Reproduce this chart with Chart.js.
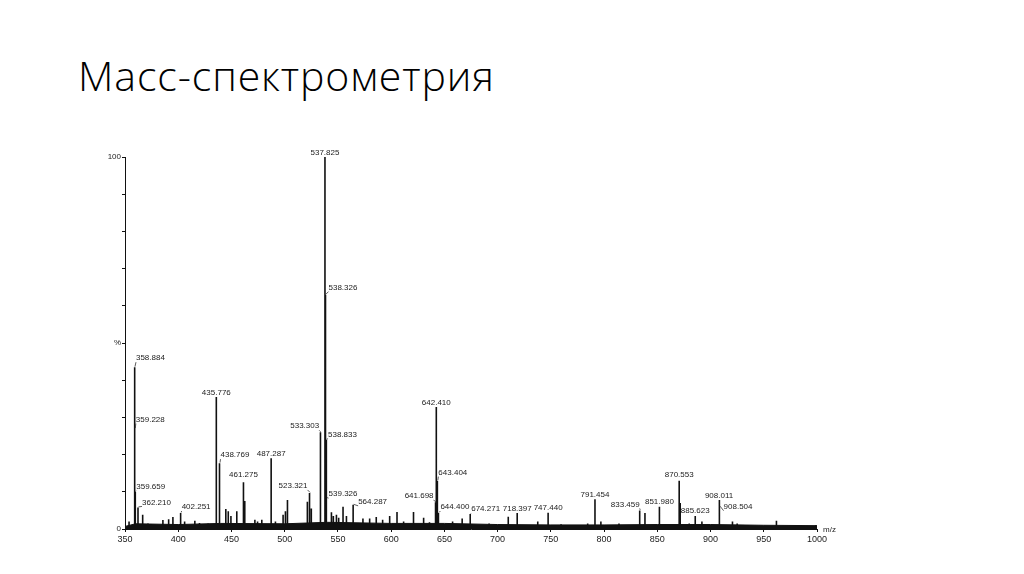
<!DOCTYPE html>
<html>
<head>
<meta charset="utf-8">
<script src="https://cdn.jsdelivr.net/npm/chart.js@4/dist/chart.umd.min.js"></script>
<style>
  html, body { margin: 0; padding: 0; background: #fff; }
  body { width: 1024px; height: 574px; position: relative; overflow: hidden; }
  #title {
    position: absolute; left: 78px; top: 55px;
    font-family: "Open Sans", sans-serif; font-weight: 300; font-size: 41px;
    letter-spacing: 0.9px; line-height: 1; color: #000; white-space: nowrap;
  }
  #spectrum { position: absolute; left: 0; top: 0; }
</style>
</head>
<body>
<div id="title">Масс-спектрометрия</div>
<canvas id="spectrum" width="1024" height="574"></canvas>
<script>
// peaks: m/z and relative intensity (%)
const peakMz = [
  353.8, 358.884, 359.228, 359.659, 362.210, 366.6, 371.6, 385.6, 391.0, 395.0,
  402.251, 406.0, 415.6, 420.0, 428.0, 435.776, 438.769, 444.7, 447.0, 449.5,
  455.0, 461.275, 462.5, 472.0, 474.5, 478.5, 487.287, 491.3, 498.5, 500.7,
  502.6, 521.3, 523.321, 525.0, 533.303, 533.8, 537.825, 538.326, 538.833, 539.326,
  543.9, 545.7, 548.6, 550.7, 554.8, 558.0, 564.287, 573.5, 579.8, 586.0,
  592.0, 598.6, 605.5, 611.7, 621.0, 630.5, 636.0, 641.698, 642.410, 643.404,
  644.400, 657.7, 666.7, 674.271, 692.0, 710.0, 718.397, 737.7, 747.440, 759.6,
  784.6, 791.454, 797.0, 814.0, 833.459, 838.4, 851.980, 870.553, 871.5, 880.0,
  885.623, 891.9, 908.011, 908.504, 920.6, 925.0, 961.9, 998.8,
]
const peakInt = [
  2, 43.5, 27, 10, 5.8, 3.8, 1.5, 2.4, 2.6, 3.2,
  4.3, 2, 2.2, 1.6, 1.5, 35.5, 17.7, 5.4, 4.8, 3.5,
  4.8, 12.6, 7.5, 2.5, 2, 2.5, 19, 2, 3.8, 4.8,
  7.8, 7.3, 9.7, 5.5, 26, 13, 100, 63, 24, 8.3,
  4.5, 3.5, 3.8, 3, 6, 3.5, 6.5, 2.8, 2.8, 3.2,
  2.5, 3.5, 4.6, 2, 4.6, 3, 1.8, 7.2, 32.8, 13,
  4.3, 2, 2.8, 4, 1.5, 3.3, 4.3, 2, 4.4, 1.3,
  1.5, 8, 2, 1.5, 5, 4.3, 6, 13, 7, 1.5,
  3.5, 2, 7.8, 6, 2, 1.5, 2.2, 1,
]

// dense noise floor along the base line (%)
const noiseMz    = [350, 360, 400, 440, 500, 540, 600, 650, 700, 750, 800, 850, 900, 950, 1000]
const noiseLevel = [0.7, 1.4, 1.2, 1.5, 1.4, 1.8, 1.5, 1.5, 1.2, 1.1, 1.1, 1.2, 1.2, 1.0, 0.9]

const peakLabels = [
  '358.884', '359.228', '359.659', '362.210', '402.251', '435.776', '438.769', '461.275',
  '487.287', '523.321', '533.303', '537.825', '538.326', '538.833', '539.326', '564.287',
  '641.698', '642.410', '643.404', '644.400', '674.271', '718.397', '747.440', '791.454',
  '833.459', '851.980', '870.553', '885.623', '908.011', '908.504',
]

const xTicks = { min: 350, max: 1000, step: 50 }
const yTicks = { min: 0, max: 100, step: 10 }

// label placement (style only)
const labelAlign = [
  'left', 'left', 'left', 'left', 'left', 'center', 'left', 'center',
  'center', 'right', 'right', 'center', 'left', 'left', 'left', 'left',
  'right', 'center', 'left', 'left', 'left', 'center', 'center', 'center',
  'right', 'center', 'center', 'center', 'center', 'left',
]
const labelDx = [
  1.5, 1, 1, 4, 1, 0, 1, 0,
  0, -2, -1, 0, 3, 2, 2, 5,
  -2, 0, 1, 2, 1, 0, 0, 0,
  0, 0, 0, 0, 0, 4,
]
const labelDy = [
  -9, -9, -5, -5, -6, -4, -8, -7,
  -5, -7, -6, -4, -7, -5, -4, -3,
  -6, -4, -8, -6, -5, -4, -4.5, -4,
  -6, -5, -5.5, -5, -4, 0,
]

// sticks: each peak goes up from 0 and back down
const stickPoints = []
peakMz.forEach((mz, i) => {
  stickPoints.push({ x: mz, y: 0 }, { x: mz, y: peakInt[i] }, { x: mz, y: 0 })
})
const noisePoints = noiseMz.map((mz, i) => ({ x: mz, y: noiseLevel[i] }))

const peakLabelPlugin = {
  id: 'peakLabels',
  afterDatasetsDraw(chart, args, opts) {
    const { ctx, scales: { x, y } } = chart
    ctx.save()
    ctx.font = '8px "Liberation Sans", Arial, sans-serif'
    ctx.fillStyle = '#222'
    ctx.strokeStyle = '#333'
    ctx.lineWidth = 0.8
    ctx.textBaseline = 'middle'
    peakLabels.forEach((txt, i) => {
      const k = peakMz.indexOf(parseFloat(txt))
      if (k < 0) return
      const px = x.getPixelForValue(peakMz[k])
      const py = y.getPixelForValue(peakInt[k])
      const tx = px + opts.dx[i]
      const ty = py + opts.dy[i]
      ctx.textAlign = opts.align[i]
      ctx.fillText(txt, tx, ty)
      if (opts.align[i] !== 'center') {
        ctx.beginPath()
        ctx.moveTo(px + 0.5, py - 0.5)
        ctx.lineTo(tx, ty + 4)
        ctx.stroke()
      }
    })
    // axis unit
    ctx.textAlign = 'left'
    ctx.fillText('m/z', x.right + 6, y.bottom + 1)
    ctx.restore()
  },
}

new Chart(document.getElementById('spectrum'), {
  type: 'line',
  data: {
    datasets: [
      {
        label: 'noise',
        data: noisePoints,
        borderColor: '#111',
        backgroundColor: '#111',
        borderWidth: 1,
        fill: 'origin',
        pointRadius: 0,
        tension: 0,
      },
      {
        label: 'peaks',
        data: stickPoints,
        borderColor: '#111',
        borderWidth: 1.6,
        fill: false,
        pointRadius: 0,
        tension: 0,
      },
    ],
  },
  options: {
    responsive: false,
    animation: false,
    devicePixelRatio: 1,
    layout: { padding: { left: 85, right: 207, top: 157, bottom: 25 } },
    plugins: {
      legend: { display: false },
      tooltip: { enabled: false },
      peakLabels: { align: labelAlign, dx: labelDx, dy: labelDy },
    },
    scales: {
      x: {
        type: 'linear',
        min: xTicks.min,
        max: xTicks.max,
        afterFit: s => { s.height = 20 },
        grid: { drawOnChartArea: false, color: '#111', tickLength: 3 },
        border: { color: '#111', width: 1 },
        ticks: {
          stepSize: xTicks.step,
          color: '#222',
          padding: 2,
          maxRotation: 0,
          autoSkip: false,
          font: { family: '"Liberation Sans", Arial, sans-serif', size: 9 },
          callback: v => String(v),
        },
      },
      y: {
        type: 'linear',
        min: yTicks.min,
        max: yTicks.max,
        afterFit: s => { s.width = 40 },
        grid: { drawOnChartArea: false, color: '#111', tickLength: 3 },
        border: { color: '#111', width: 1 },
        ticks: {
          stepSize: yTicks.step,
          color: '#222',
          padding: 1,
          autoSkip: false,
          font: { family: '"Liberation Sans", Arial, sans-serif', size: 8 },
          callback: v => v === 100 ? '100' : v === 50 ? '%' : v === 0 ? '0' : '',
        },
      },
    },
  },
  plugins: [peakLabelPlugin],
})
</script>
</body>
</html>
